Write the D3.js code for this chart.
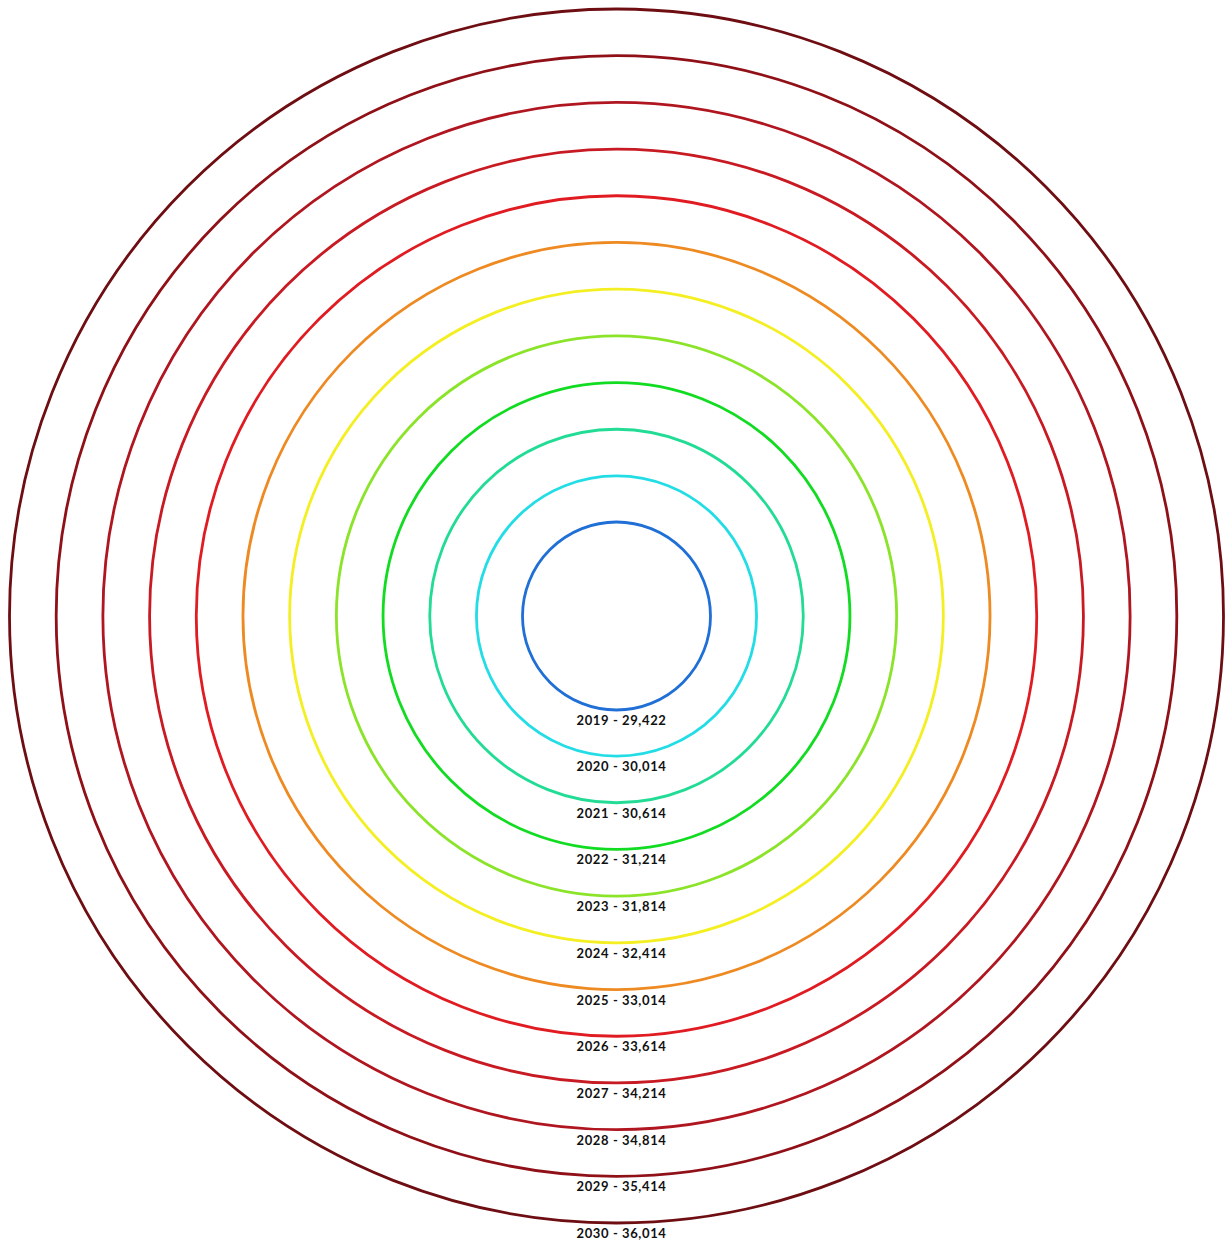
<!DOCTYPE html>
<html>
<head>
<meta charset="utf-8">
<script src="https://cdn.jsdelivr.net/npm/d3@7"></script>
<style>
html,body{margin:0;padding:0;background:#fff;}
svg{display:block;}
</style>
</head>
<body>
<svg id="chart" width="1225" height="1242"></svg>
<script>
const years = [2019, 2020, 2021, 2022, 2023, 2024, 2025, 2026, 2027, 2028, 2029, 2030];
const values = [29422, 30014, 30614, 31214, 31814, 32414, 33014, 33614, 34214, 34814, 35414, 36014];
const colors = ["#1f6fd6", "#22dde6", "#22dc96", "#12dc22", "#8be42a", "#f4ef22", "#ee8a22", "#e01c22", "#c81a22", "#b01620", "#901018", "#6e0e12"];

const svg = d3.select("#chart");
const cx = 616.5, cy = 616;
const r = d3.scaleLinear().domain([d3.min(values), d3.max(values)]).range([94, 607]);

const data = years.map((y, i) => ({year: y, value: values[i], color: colors[i]}));

const g = svg.append("g").attr("transform", `translate(${cx},${cy})`);

g.selectAll("circle").data(data).join("circle")
  .attr("r", d => r(d.value))
  .attr("fill", "none")
  .attr("stroke", d => d.color)
  .attr("stroke-width", 2.8);

const fmt = d3.format(",");
g.selectAll("text").data(data).join("text")
  .attr("x", 5)
  .attr("y", d => r(d.value) + 15)
  .attr("text-anchor", "middle")
  .attr("font-family", "Lato, 'Noto Sans', sans-serif")
  .attr("font-size", 13)
  .attr("font-weight", 700)
  .attr("letter-spacing", 0.6)
  .attr("fill", "#111")
  .text(d => `${d.year} - ${fmt(d.value)}`);
</script>
</body>
</html>
